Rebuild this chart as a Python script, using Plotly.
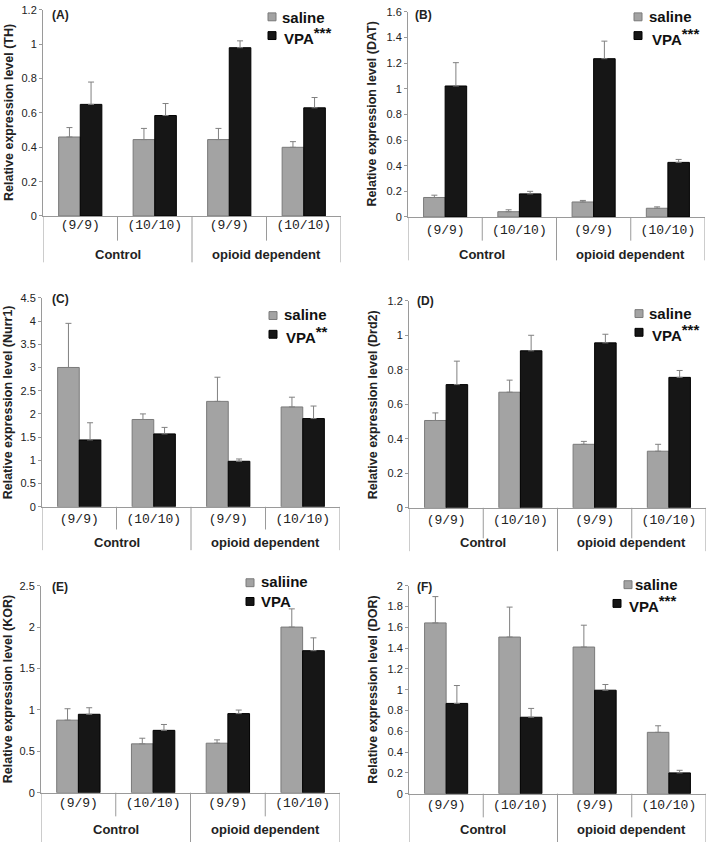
import plotly.graph_objects as go

W, H = 709, 848

# ---------------- data ----------------
sub_labels = ["(9/9)", "(10/10)", "(9/9)", "(10/10)"]
group_labels = ["Control", "opioid dependent"]
panel_letters = ["(A)", "(B)", "(C)", "(D)", "(E)", "(F)"]
genes = ["TH", "DAT", "Nurr1", "Drd2", "KOR", "DOR"]
saline_names = ["saline", "saline", "saline", "saline", "saliine", "saline"]
vpa_stars = ["***", "***", "**", "***", "", "***"]
y_max = [1.2, 1.6, 4.5, 1.2, 2.5, 2.0]
y_dtick = [0.2, 0.2, 0.5, 0.2, 0.5, 0.2]

saline_TH = [0.46, 0.445, 0.445, 0.40]
saline_TH_err = [0.055, 0.065, 0.065, 0.033]
vpa_TH = [0.65, 0.585, 0.98, 0.63]
vpa_TH_err = [0.13, 0.07, 0.04, 0.06]

saline_DAT = [0.152, 0.041, 0.117, 0.068]
saline_DAT_err = [0.018, 0.015, 0.012, 0.011]
vpa_DAT = [1.022, 0.18, 1.235, 0.426]
vpa_DAT_err = [0.182, 0.02, 0.137, 0.023]

saline_Nurr1 = [3.0, 1.88, 2.27, 2.15]
saline_Nurr1_err = [0.95, 0.12, 0.52, 0.21]
vpa_Nurr1 = [1.44, 1.57, 0.98, 1.9]
vpa_Nurr1_err = [0.37, 0.14, 0.05, 0.27]

saline_Drd2 = [0.506, 0.67, 0.368, 0.328]
saline_Drd2_err = [0.044, 0.07, 0.017, 0.04]
vpa_Drd2 = [0.714, 0.91, 0.956, 0.756]
vpa_Drd2_err = [0.136, 0.09, 0.05, 0.04]

saline_KOR = [0.876, 0.59, 0.598, 2.0]
saline_KOR_err = [0.138, 0.068, 0.04, 0.22]
vpa_KOR = [0.947, 0.753, 0.955, 1.715]
vpa_KOR_err = [0.079, 0.071, 0.043, 0.155]

saline_DOR = [1.642, 1.506, 1.41, 0.59]
saline_DOR_err = [0.253, 0.288, 0.21, 0.063]
vpa_DOR = [0.868, 0.735, 0.995, 0.2]
vpa_DOR_err = [0.172, 0.085, 0.055, 0.025]

saline_all = [saline_TH, saline_DAT, saline_Nurr1, saline_Drd2, saline_KOR, saline_DOR]
saline_err_all = [saline_TH_err, saline_DAT_err, saline_Nurr1_err, saline_Drd2_err,
                  saline_KOR_err, saline_DOR_err]
vpa_all = [vpa_TH, vpa_DAT, vpa_Nurr1, vpa_Drd2, vpa_KOR, vpa_DOR]
vpa_err_all = [vpa_TH_err, vpa_DAT_err, vpa_Nurr1_err, vpa_Drd2_err, vpa_KOR_err, vpa_DOR_err]

# ---------------- geometry (pixels) ----------------
geom = [
    dict(xl=43, xr=341, y0=213, yt=4, inner=238, outer=260, grp=252, tx=9, so=-4,
         s1=(268, 11), s2=(268, 30), t1=(281, 12), t2=(283, 30), pl=(50, 9)),
    dict(xl=408, xr=705, y0=214, yt=6, inner=238, outer=258, grp=252, tx=372, so=0,
         s1=(634, 11), s2=(634, 30), t1=(648, 11), t2=(651, 31), pl=(413, 9)),
    dict(xl=42, xr=340, y0=508, yt=296, inner=531, outer=552, grp=544, tx=8, so=0,
         s1=(269, 314), s2=(269, 333), t1=(283, 313), t2=(285, 333), pl=(50, 297)),
    dict(xl=409, xr=706, y0=509, yt=299, inner=540, outer=553, grp=544, tx=373, so=0,
         s1=(635, 312), s2=(635, 331), t1=(648, 312), t2=(651, 331), pl=(415, 299)),
    dict(xl=41, xr=340, y0=798, yt=588, inner=822, outer=848, grp=835, tx=8, so=-2,
         s1=(246, 585), s2=(246, 604), t1=(260, 584), t2=(260, 604), pl=(50, 589)),
    dict(xl=409, xr=706, y0=799, yt=588, inner=823, outer=848, grp=835, tx=373, so=-1,
         s1=(624, 587), s2=(613, 606), t1=(634, 587), t2=(628, 606), pl=(415, 589)),
]


def px(x):
    return x / W


def py(y):
    return 1 - y / H


SAL_FILL, SAL_LINE = "#a3a3a3", "#7a7a7a"
VPA_FILL, VPA_LINE = "#161616", "#000000"
AX = "#9a9a9a"
TXT = "#222222"

fig = go.Figure()
shapes, annotations = [], []
xcats = [0, 1, 2, 3]

for i, g in enumerate(geom):
    n = i + 1
    xa = "x" if n == 1 else f"x{n}"
    ya = "y" if n == 1 else f"y{n}"
    for vals, errs, fill, line in [(saline_all[i], saline_err_all[i], SAL_FILL, SAL_LINE),
                                   (vpa_all[i], vpa_err_all[i], VPA_FILL, VPA_LINE)]:
        fig.add_trace(go.Bar(
            x=xcats, y=vals, xaxis=xa, yaxis=ya, showlegend=False,
            marker=dict(color=fill, line=dict(color=line, width=1)),
            error_y=dict(type="data", array=errs, arrayminus=[0] * len(errs),
                         symmetric=False, color="#808080", thickness=1, width=3),
        ))
    xkey = "xaxis" if n == 1 else f"xaxis{n}"
    ykey = "yaxis" if n == 1 else f"yaxis{n}"
    fig.update_layout(**{
        xkey: dict(domain=[px(g["xl"]), px(g["xr"])], anchor=ya, range=[-0.5, 3.5],
                   showline=True, linecolor=AX, linewidth=1, ticks="", showgrid=False,
                   zeroline=False, tickvals=xcats, ticktext=sub_labels,
                   ticklabelstandoff=g["so"],
                   tickfont=dict(family="Courier New, Liberation Mono, monospace", size=13, color=TXT)),
        ykey: dict(domain=[py(g["y0"]), py(g["yt"])], anchor=xa, range=[0, y_max[i]],
                   dtick=y_dtick[i], tick0=0, showline=True, linecolor=AX, linewidth=1,
                   ticks="outside", ticklen=3, tickcolor=AX, showgrid=False, zeroline=False,
                   tickfont=dict(family="Arial, Liberation Sans, sans-serif", size=11, color=TXT)),
    })
    # separators
    for xv in [0.5, 2.5]:
        shapes.append(dict(type="line", xref=xa, yref="paper", x0=xv, x1=xv,
                           y0=py(g["y0"]), y1=py(g["inner"]), line=dict(color=AX, width=1)))
    for xv in [-0.5, 1.5, 3.5]:
        shapes.append(dict(type="line", xref=xa, yref="paper", x0=xv, x1=xv,
                           y0=py(g["y0"]), y1=py(g["outer"]), line=dict(color=AX, width=1)))
    # group labels
    for xv, lab in zip([0.5, 2.5], group_labels):
        annotations.append(dict(xref=xa, yref="paper", x=xv, y=py(g["grp"]), text=lab,
                                showarrow=False, xanchor="center", yanchor="middle",
                                font=dict(family="Arial, Liberation Sans, sans-serif", size=13,
                                          color=TXT, weight="bold")))
    # y title
    annotations.append(dict(xref="paper", yref="paper", x=px(g["tx"]),
                            y=py((g["y0"] + g["yt"]) / 2),
                            text=f"Relative expression level ({genes[i]})", textangle=-90,
                            showarrow=False, xanchor="center", yanchor="middle",
                            font=dict(family="Arial, Liberation Sans, sans-serif", size=12.5,
                                      color=TXT, weight="bold")))
    # panel letter
    annotations.append(dict(xref="paper", yref="paper", x=px(g["pl"][0]), y=py(g["pl"][1]),
                            text=panel_letters[i], showarrow=False, xanchor="left",
                            yanchor="middle",
                            font=dict(family="Arial, Liberation Sans, sans-serif", size=12,
                                      color=TXT, weight="bold")))
    # legend
    for (sx, sy), fill, line in [(g["s1"], SAL_FILL, SAL_LINE), (g["s2"], VPA_FILL, VPA_LINE)]:
        shapes.append(dict(type="rect", xref="paper", yref="paper", x0=px(sx), x1=px(sx + 8),
                           y0=py(sy - 4), y1=py(sy + 4), fillcolor=fill,
                           line=dict(color=line, width=1)))
    vpa_label = "VPA"
    if vpa_stars[i]:
        vpa_label += f"<sup><span style='font-size:15px'>{vpa_stars[i]}</span></sup>"
    for (tx, ty), lab in [(g["t1"], saline_names[i]), (g["t2"], vpa_label)]:
        annotations.append(dict(xref="paper", yref="paper", x=px(tx), y=py(ty), text=lab,
                                showarrow=False, xanchor="left", yanchor="middle", borderpad=0,
                                font=dict(family="Arial, Liberation Sans, sans-serif", size=15,
                                          color="#111111", weight="bold")))

fig.update_layout(
    width=W, height=H, margin=dict(l=0, r=0, t=0, b=0),
    paper_bgcolor="white", plot_bgcolor="white",
    barmode="group", bargap=0.42, bargroupgap=0,
    shapes=shapes, annotations=annotations, showlegend=False,
)

fig.write_html("out.html", config={"displayModeBar": False},
               post_script="document.body.style.margin='0';")
